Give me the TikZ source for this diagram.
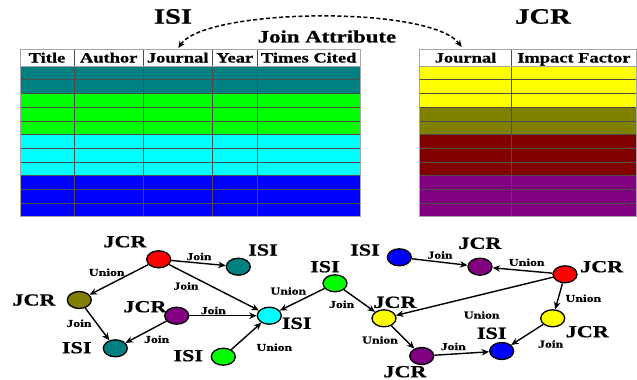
\documentclass[tikz,border=0pt]{standalone}
\usepackage{fontspec}
\setmainfont[FakeStretch=1.3, BoldFeatures={FakeBold=0.7}]{Liberation Serif}
\usetikzlibrary{arrows.meta,shapes.geometric}
\definecolor{mteal}{HTML}{008080}
\definecolor{molive}{HTML}{808000}
\definecolor{mpurple}{HTML}{800080}
\definecolor{mmaroon}{HTML}{800000}
\definecolor{mgreen}{HTML}{00FF00}
\definecolor{mcyan}{HTML}{00FFFF}
\definecolor{mblue}{HTML}{0000FF}
\definecolor{myellow}{HTML}{FFFF00}
\definecolor{mred}{HTML}{FF0000}
\tikzset{
  title/.style={font=\fontsize{22}{24}\selectfont\bfseries, inner sep=0pt},
  attr/.style={font=\fontsize{17.5}{20}\selectfont\bfseries, inner sep=0pt},
  hdr/.style={font=\fontsize{14.2}{16}\selectfont\bfseries, inner sep=0pt, anchor=base},
  vlab/.style={font=\fontsize{17}{19}\selectfont\bfseries, inner sep=0pt},
  elab/.style={font=\fontsize{10.5}{12}\selectfont\bfseries, inner sep=0pt},
  gnode/.style={ellipse, draw=black, line width=1.3pt, minimum width=24pt, minimum height=17pt, inner sep=0pt},
  edge/.style={line width=1.4pt, -{Stealth[length=7.5pt,width=6.5pt]}},
  gridline/.style={draw=black!70, line width=0.6pt},
}
\begin{document}
\begin{tikzpicture}[x=1pt,y=-1pt]
\useasboundingbox (0,0) rectangle (637,380);
% ISI table
\foreach \c [count=\i from 0] in {mteal,mteal,mgreen,mgreen,mgreen,mcyan,mcyan,mcyan,mblue,mblue,mblue}{
  \fill[\c] (20,{66+13.7*\i}) rectangle (360,{66+13.7*(\i+1)});
}
\foreach \i in {1,...,10}{ \draw[gridline] (20,{66+13.7*\i}) -- (360,{66+13.7*\i}); }
\foreach \x in {74,143.3,212,257.3}{ \draw[gridline] (\x,49) -- (\x,216.7); }
\draw[black!35, line width=0.8pt] (20,49) rectangle (360,216.7);
\draw[black!35, line width=0.8pt] (20,66) -- (360,66);
% JCR table
\foreach \c [count=\i from 0] in {myellow,myellow,myellow,molive,molive,mmaroon,mmaroon,mmaroon,mpurple,mpurple,mpurple}{
  \fill[\c] (419.3,{66+13.7*\i}) rectangle (636,{66+13.7*(\i+1)});
}
\foreach \i in {1,...,10}{ \draw[gridline] (419.3,{66+13.7*\i}) -- (636,{66+13.7*\i}); }
\draw[gridline] (511.7,49) -- (511.7,216.7);
\draw[black!35, line width=0.8pt] (419.3,49) rectangle (636,216.7);
\draw[black!35, line width=0.8pt] (419.3,66) -- (636,66);
% headers
\node[hdr] (hT) at (47,62.5) {Title};
\node[hdr] (hA) at (108.7,62.5) {Author};
\node[hdr] (hJ) at (177.7,62.5) {Journal};
\node[hdr] (hY) at (234.7,62.5) {Year};
\node[hdr] (hC) at (308.7,62.5) {Times Cited};
\node[hdr] (hJ2) at (465.5,62.5) {Journal};
\node[hdr] (hI) at (573.9,62.5) {Impact Factor};
% titles
\node[title] (tISI) at (173,16.5) {ISI};
\node[title] (tJCR) at (543,16.5) {JCR};
\node[attr] (tAttr) at (327,36.5) {Join Attribute};
\coordinate (aL) at (178.3,48);
\coordinate (aR) at (461.7,47);
\draw[line width=1.5pt, dash pattern=on 4pt off 2.5pt, {Stealth[length=7pt,width=6pt]}-{Stealth[length=7pt,width=6pt]}]
  (aL) .. controls (205,8) and (430,5) .. (aR);
% graph nodes
\node[gnode, fill=mred] (r1) at (158.7,259.3) {};
\node[gnode, fill=mteal] (t1) at (238.3,266.7) {};
\node[gnode, fill=molive] (o1) at (79.3,300) {};
\node[gnode, fill=mpurple] (p1) at (176.7,315.7) {};
\node[gnode, fill=mteal] (t2) at (115.3,348.3) {};
\node[gnode, fill=mcyan] (c1) at (269.3,315.7) {};
\node[gnode, fill=mgreen] (g2) at (223.3,356.7) {};
\node[gnode, fill=mgreen] (g1) at (335,283.3) {};
\node[gnode, fill=mblue] (b1) at (399.3,257.3) {};
\node[gnode, fill=mpurple] (p2) at (480,266.7) {};
\node[gnode, fill=mred] (r2) at (565,274.3) {};
\node[gnode, fill=myellow] (y1) at (384,318.3) {};
\node[gnode, fill=myellow] (y2) at (552.7,318.3) {};
\node[gnode, fill=mpurple] (p3) at (421.7,356) {};
\node[gnode, fill=mblue] (b2) at (501.7,351) {};
% vertex labels
\node[vlab] (lr1) at (125,241.7) {JCR};
\node[vlab] (lt1) at (263,250) {ISI};
\node[vlab] (lo1) at (34,300) {JCR};
\node[vlab] (lp1) at (145,306.7) {JCR};
\node[vlab] (lt2) at (76.7,347.7) {ISI};
\node[vlab] (lc1) at (296.7,323.3) {ISI};
\node[vlab] (lg2) at (188.3,355.7) {ISI};
\node[vlab] (lb1) at (365,250) {ISI};
\node[vlab] (lp2) at (480,243.3) {JCR};
\node[vlab] (lr2) at (601.7,266.7) {JCR};
\node[vlab] (lg1) at (325,266.7) {ISI};
\node[vlab] (ly1) at (395,302.3) {JCR};
\node[vlab] (ly2) at (587.3,331.7) {JCR};
\node[vlab] (lp3) at (405,371.7) {JCR};
\node[vlab] (lb2) at (491.7,333.3) {ISI};
% edges
\draw[edge] (r1) -- (t1);
\draw[edge] (r1) -- (o1);
\draw[edge] (r1) -- (c1);
\draw[edge] (o1) -- (t2);
\draw[edge] (p1) -- (t2);
\draw[edge] (p1) -- (c1);
\draw[edge] (g1) -- (c1);
\draw[edge] (g2) -- (c1);
\draw[edge] (g1) -- (y1);
\draw[edge] (b1) -- (p2);
\draw[edge] (r2) -- (p2);
\draw[edge] (r2) -- (y1);
\draw[edge] (r2) -- (y2);
\draw[edge] (y1) -- (p3);
\draw[edge] (p3) -- (b2);
\draw[edge] (y2) -- (b2);
% edge labels
\node[elab] (e1) at (199,256.5) {Join};
\node[elab] (e2) at (106.7,272.3) {Union};
\node[elab] (e3) at (186,286) {Join};
\node[elab] (e4) at (79,323.3) {Join};
\node[elab] (e5) at (213.3,310.5) {Join};
\node[elab] (e6) at (156.7,339.3) {Join};
\node[elab] (e7) at (288.3,291) {Union};
\node[elab] (e8) at (274.3,347.3) {Union};
\node[elab] (e9) at (440,255) {Join};
\node[elab] (e10) at (526.7,262.3) {Union};
\node[elab] (e11) at (583.3,298.3) {Union};
\node[elab] (e12) at (481.7,315) {Union};
\node[elab] (e13) at (341.7,304.3) {Join};
\node[elab] (e14) at (380,340) {Union};
\node[elab] (e15) at (453.3,346.5) {Join};
\node[elab] (e16) at (550.7,344) {Join};
\end{tikzpicture}
\end{document}
